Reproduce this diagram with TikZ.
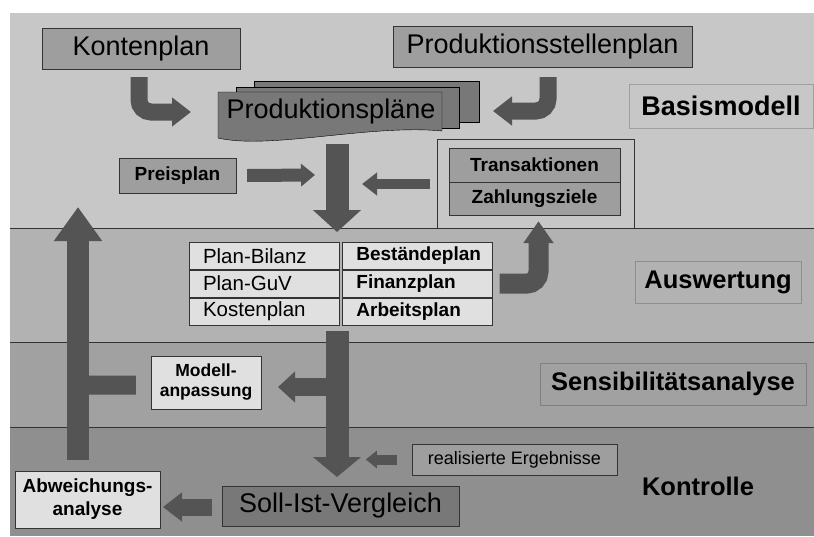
\documentclass[tikz,border=0pt]{standalone}
\usepackage{fontspec}
\setmainfont{Liberation Sans}
\usetikzlibrary{arrows.meta}
\usetikzlibrary{positioning}

\definecolor{bandA}{gray}{0.78}
\definecolor{bandB}{gray}{0.70}
\definecolor{bandC}{gray}{0.63}
\definecolor{bandD}{gray}{0.56}
\definecolor{planfill}{gray}{0.62}
\definecolor{darkfill}{gray}{0.47}
\definecolor{cellfill}{gray}{0.88}
\definecolor{arrowgray}{gray}{0.33}

\begin{document}
\begin{tikzpicture}[x=1pt,y=-1pt,line cap=butt,
    plan/.style={draw=black!80,fill=planfill,inner sep=0pt,font=\fontsize{27}{30}\selectfont},
    minor/.style={draw=black!80,fill=planfill,inner sep=0pt,font=\bfseries\fontsize{19}{21}\selectfont},
    note/.style={draw=black!80,fill=cellfill,inner sep=0pt,align=center,font=\bfseries\fontsize{17.5}{20}\selectfont},
    cell/.style={draw=black!80,fill=cellfill,minimum height=27.5pt,inner xsep=14pt,inner ysep=0pt,
                 text width=122pt,font=\fontsize{20.5}{22}\selectfont},
    stage/.style={draw=black,draw opacity=0.2,inner sep=0pt,font=\bfseries\fontsize{25.5}{28}\selectfont},
    fat/.style={draw=arrowgray,line width=#1}]
  \useasboundingbox[fill=white] (0,0) rectangle (814,536);

  % bands
  \fill[bandA] (10,13) rectangle (814,228);
  \fill[bandB] (10,228) rectangle (814,342);
  \fill[bandC] (10,342) rectangle (814,427);
  \fill[bandD] (10,427) rectangle (814,536);
  \draw[black!80,semithick] (10,228) -- (814,228) (10,342) -- (814,342) (10,427) -- (814,427);

  % Basismodell
  \node[plan,minimum width=198pt,minimum height=41pt] (konten) at (141,48.5) {Kontenplan};
  \node[plan,minimum width=299pt,minimum height=41pt] (stellen) at (542.5,46.5) {Produktionsstellenplan};
  \filldraw[darkfill,draw=black] (254,81) rectangle (479,122);
  \filldraw[darkfill,draw=black] (236,87) rectangle (459,128);
  \filldraw[darkfill,draw=black] (218,92) -- (442,92) -- (442,131)
    .. controls (370,124) and (270,150) .. (218,138) -- cycle;
  \node[font=\fontsize{27}{30}\selectfont] (plans) at (331,112) {Produktionspläne};
  \node[minor,minimum width=117pt,minimum height=35pt] (preis) at (177.5,175.5) {Preisplan};
  \node[draw=black!80,fill=bandA,minimum width=197pt,minimum height=89pt] (ziele) at (535.5,183.5) {};
  \node[minor,minimum width=171pt,minimum height=34pt] (trans) at (534.5,165) {Transaktionen};
  \node[minor,minimum width=171pt,minimum height=33pt,below=0pt of trans] (zahl) {Zahlungsziele};
  \node[stage,minimum width=184pt,minimum height=44pt,font=\bfseries\fontsize{27}{30}\selectfont] (basis) at (721,106) {Basismodell};

  % Auswertung
  \node[cell] (bilanz) at (264,255.75) {Plan-Bilanz};
  \node[cell,below=0pt of bilanz] (guv) {Plan-GuV};
  \node[cell,below=0pt of guv] (kosten) {Kostenplan};
  \node[cell,right=3pt of bilanz,font=\bfseries\fontsize{19}{22}\selectfont] (bestand) {Beständeplan};
  \node[cell,below=0pt of bestand,font=\bfseries\fontsize{19}{22}\selectfont] (finanz) {Finanzplan};
  \node[cell,below=0pt of finanz,font=\bfseries\fontsize{19}{22}\selectfont] (arbeit) {Arbeitsplan};
  \node[stage,minimum width=166pt,minimum height=42pt] (ausw) at (718,282) {Auswertung};

  % Sensibilitaet
  \node[note,minimum width=110pt,minimum height=53pt] (modell) at (206,382.5) {Modell-\\anpassung};
  \node[stage,minimum width=266pt,minimum height=42pt] (sens) at (673,384) {Sensibilitätsanalyse};

  % Kontrolle
  \node[draw=black!80,fill=planfill,minimum width=205pt,minimum height=31pt,inner sep=0pt,
        font=\fontsize{18}{21}\selectfont] (real) at (514.5,459.5) {realisierte Ergebnisse};
  \node[plan,fill=darkfill,minimum width=237pt,minimum height=40pt] (soll) at (340.5,506) {Soll-Ist-Vergleich};
  \node[note,minimum width=145pt,minimum height=57pt,font=\bfseries\fontsize{19}{23}\selectfont] (abw) at (87.5,499.5) {Abweichungs-\\analyse};
  \node[font=\bfseries\fontsize{25.5}{28}\selectfont] (kontr) at (698,486) {Kontrolle};

  % arrow ends
  \coordinate (plans-in) at (191,112);
  \coordinate (stellen-in) at (493,111);
  \coordinate (merge) at (337,144);
  \coordinate (table-in) at (337,232);
  \coordinate (preis-in) at (315,175);
  \coordinate (ziele-in) at (362,184);
  \coordinate (table-out) at (337,331);
  \coordinate (soll-in) at (337,477);
  \coordinate (modell-in) at (278,387);
  \coordinate (back-out) at (78,460);
  \coordinate (back-in) at (78,207);
  \coordinate (join) at (78,330);
  \coordinate (soll-out) at (212,507);
  \coordinate (abw-in) at (163,507);

  \draw[fat=17pt,rounded corners=12pt,-{Triangle[width=28pt,length=19pt]}]
    ([xshift=-2pt,yshift=-8pt]konten.south) |- (plans-in);
  \draw[fat=17pt,rounded corners=12pt,-{Triangle[width=28pt,length=19pt]}]
    ([xshift=5.5pt,yshift=-10pt]stellen.south) |- (stellen-in);
  \draw[fat=23pt,-{Triangle[width=47pt,length=22pt]}] (merge) -- (table-in);
  \draw[fat=13pt,-{Triangle[width=22pt,length=14pt]}] ([xshift=11pt]preis.east) -- (preis-in);
  \draw[fat=10pt,-{Triangle[width=22pt,length=15pt]}] ([xshift=-7pt,yshift=-0.5pt]ziele.west) -- (ziele-in);
  \draw[fat=20pt,rounded corners=12pt,-{Triangle[width=29pt,length=22pt]}]
    ([xshift=7pt]finanz.east) -| ([xshift=3pt,yshift=7pt]ziele.south);
  \draw[fat=23pt,-{Triangle[width=47pt,length=20pt]}] (table-out) -- (soll-in);
  \draw[fat=18pt,-{Triangle[width=30pt,length=17pt]}] (table-out |- modell-in) -- (modell-in);
  \draw[fat=19pt,rounded corners=10pt] ([xshift=-15pt,yshift=-2.5pt]modell.west) -| (join);
  \draw[fat=22pt,-{Triangle[width=46pt,length=34pt]}] (back-out) -- (back-in);
  \draw[fat=10pt,-{Triangle[width=17pt,length=11pt]}] ([xshift=-15pt]real.west) -- ([xshift=-46pt]real.west);
  \draw[fat=17pt,-{Triangle[width=28pt,length=19pt]}] (soll-out) -- (abw-in);
\end{tikzpicture}
\end{document}
